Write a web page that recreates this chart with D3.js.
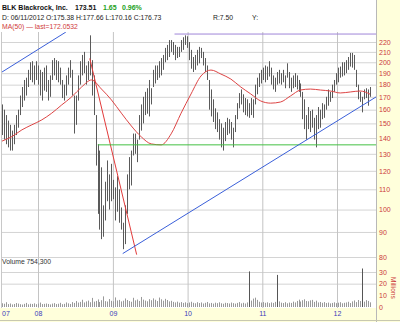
<!DOCTYPE html>
<html>
<head>
<meta charset="utf-8">
<script src="https://cdn.jsdelivr.net/npm/d3@7"></script>
<style>
  body { margin: 0; background: #ffffdb; }
  svg { display: block; font-family: "Liberation Sans", Arial, sans-serif; }
</style>
</head>
<body>
<div id="chart"></div>
<script>
// bar highs / lows (about 7 trading days per bar), Jul 2007 .. Jun 2012
const highs = [
  164,160,156,152,149,145,149,156,160,171,
  178,184,186,193,200,201,197,201,197,193,
  191,195,197,184,188,202,204,202,201,195,
  184,180,188,195,202,193,171,171,188,201,
  207,210,197,201,227,202,188,156,136,132,
  122,102,114,126,118,124,115,111,117,110,
  101,94,102,118,128,132,143,143,139,156,
  164,170,174,177,184,177,193,197,197,201,
  204,207,214,217,222,222,220,217,215,215,
  222,225,227,226,220,212,205,207,212,215,
  214,210,204,197,184,176,168,161,158,153,
  150,147,151,154,153,151,147,156,165,173,
  176,172,169,168,165,169,168,180,186,190,
  193,195,197,196,201,195,188,186,191,193,
  190,193,188,199,191,186,188,190,188,184,
  181,174,168,156,162,159,160,154,156,162,
  160,165,164,170,176,174,180,184,190,195,
  196,200,200,202,205,209,209,207,193,180,
  174,170,176,177,176,178
];
const lows = [
  142,139,136,134,132,132,136,142,147,156,
  162,167,171,178,184,182,180,184,180,171,
  167,175,174,167,170,184,188,184,182,180,
  169,167,171,180,186,171,143,149,167,180,
  188,190,180,184,188,171,156,123,98,91,
  87,88,95,104,100,104,105,95,99,94,
  91,83,85,98,110,112,129,130,125,139,
  145,150,156,157,155,164,178,181,184,186,
  188,193,200,202,205,210,207,202,204,205,
  210,212,217,214,202,194,191,193,197,199,
  204,197,191,184,160,155,151,146,144,139,
  134,132,138,142,143,139,134,144,153,161,
  164,158,156,155,154,156,154,164,172,178,
  181,184,182,184,187,180,176,174,180,181,
  180,182,177,186,177,174,177,178,176,174,
  170,153,146,139,146,144,147,139,134,146,
  147,153,154,160,163,166,169,174,180,182,
  186,187,188,190,193,196,195,193,178,168,
  166,158,168,169,163,170
];
// volume in millions, one per bar
const volumes = [
  3.2,2.8,4.1,2.5,3.0,2.2,2.6,3.4,2.9,2.4,
  2.1,2.7,3.5,2.3,2.8,2.6,3.1,2.4,2.9,3.8,
  2.5,2.7,3.0,2.6,2.2,2.9,3.3,2.5,2.8,3.6,
  2.4,2.7,3.9,3.1,2.6,
  4.2,3.5,5.1,3.8,4.4,6.2,3.9,4.8,5.5,4.1,
  7.8,4.6,5.2,6.5,4.3,5.8,9.1,5.0,4.7,6.8,
  5.3,4.9,8.2,5.6,6.1,4.8,5.4,7.3,6.0,5.1,
  4.5,7.9,5.7,6.4,5.2,8.6,6.3,5.5,4.9,6.7,
  5.8,7.4,6.2,5.1,8.1,6.6,5.4,7.0,6.0,4.8,
  5.3,4.4,3.9,4.6,3.7,4.2,3.5,4.0,3.3,3.8,
  4.5,3.6,3.2,4.1,3.4,3.9,3.0,3.6,4.3,3.1,
  3.5,2.9,3.7,3.3,4.0,3.2,2.8,3.6,3.4,3.0,
  3.8,3.3,2.9,3.5,4.2,3.1,3.6,3.0,3.9,30.5,
  5.5,7.2,8.0,6.1,4.5,3.8,4.2,3.6,4.0,3.3,3.9,3.5,4.4,
  27.5,
  4.8,3.7,3.4,4.1,3.2,3.8,3.5,4.6,3.9,5.2,6.3,
  4.7,5.8,6.6,5.1,4.9,5.7,6.1,4.4,5.4,3.9,4.3,
  3.6,4.2,3.4,3.8,3.1,3.5,4.0,3.3,3.7,4.1,3.2,3.6,
  3.9,4.5,3.4,4.8,5.6,4.2,6.0,5.1,33.0,4.6,5.9,5.2,4.0
];
// MA(50), read every 5th bar
const maValues = [
  138,141,145.5,149,152.5,157.4,163.6,169.9,178,184,
  176.3,167.5,157.4,148.2,140.8,136.2,135.6,142.8,157.4,172.3,
  187.5,192.8,189.2,184.8,178,172.3,166.7,165,165.9,170.7,
  175.5,176.3,175.5,174.7,173.1,173.9,174.7,172.05
];
const priceTicks = [80,90,100,110,120,130,140,150,160,170,180,190,200,210,220];
const volumeTicks = [0,10,20,30];
const firstDay = "2007-07-09", lastDay = "2012-06-11";

// drawn trend lines: [date, price] start and end
const trendStarts = [["2007-07-09",191],["2009-10-29",228.4],["2008-09-10",203.6],["2008-10-19",135.6],["2009-02-18",81.3]];
const trendEnds   = [["2008-05-16",230.5],["2012-07-10",228.4],["2009-04-27",80.9],["2012-07-10",135.6],["2012-07-10",169.9]];
const trendColors = ["#3a5fd9","#9f86d8","#e23a3a","#44c044","#3a5fd9"];

const width = 400, height = 322;
const parse = d3.timeParse("%Y-%m-%d");
const start = parse(firstDay), end = parse(lastDay);
const dates = highs.map((d, i) => new Date(+start + (end - start) * i / (highs.length - 1)));

const x = d3.scaleTime().domain([new Date(2008,0,1), new Date(2012,0,1)]).range([38, 337]);
const y = d3.scaleLog().domain([80, 220]).range([257, 42]);
const yv = d3.scaleLinear().domain([0, 30]).range([307, 272]);

const svg = d3.select("#chart").append("svg")
    .attr("width", width)
    .attr("height", height);

svg.append("rect").attr("width", width).attr("height", height).attr("fill", "#ffffdb");
svg.append("rect").attr("x", 0).attr("y", 0).attr("width", 376).attr("height", 308)
    .attr("fill", "#fff");
svg.append("line").attr("x1", 376.5).attr("x2", 376.5).attr("y1", 0).attr("y2", 322)
    .attr("stroke", "#b8b8b8");
svg.append("line").attr("x1", 1.5).attr("x2", 1.5).attr("y1", 32).attr("y2", 308)
    .attr("stroke", "#c8c8c8");
svg.append("line").attr("x1", 0).attr("x2", 400).attr("y1", 320.5).attr("y2", 320.5)
    .attr("stroke", "#c8c8b0");

svg.append("clipPath").attr("id", "plot")
  .append("rect").attr("x", 2).attr("y", 32).attr("width", 374).attr("height", 276);

const plot = svg.append("g").attr("clip-path", "url(#plot)");

// horizontal grid
plot.append("g")
    .attr("transform", "translate(376,0)")
    .call(d3.axisLeft(y).tickValues(priceTicks).tickSize(374).tickFormat(""))
    .call(g => g.select(".domain").remove())
    .call(g => g.selectAll("line").attr("stroke", "#d4d4d4"));

plot.append("g")
    .attr("transform", "translate(376,0)")
    .call(d3.axisLeft(yv).tickValues([20, 30]).tickSize(374).tickFormat(""))
    .call(g => g.select(".domain").remove())
    .call(g => g.selectAll("line").attr("stroke", "#d4d4d4"));

// year grid
plot.append("g")
    .attr("transform", "translate(0,308)")
    .call(d3.axisTop(x).ticks(d3.timeYear.every(1)).tickSize(276).tickFormat(""))
    .call(g => g.select(".domain").remove())
    .call(g => g.selectAll("line").attr("stroke", "#c4c4c4"));

// volume bars
plot.selectAll(".vol")
    .data(volumes)
    .join("line")
    .attr("class", "vol")
    .attr("x1", (d, i) => Math.round(x(dates[i])) + 0.5)
    .attr("x2", (d, i) => Math.round(x(dates[i])) + 0.5)
    .attr("y1", yv(0))
    .attr("y2", d => yv(d))
    .attr("stroke", d => d > 15 ? "#555" : "#999");

// price bars
plot.selectAll(".bar")
    .data(highs)
    .join("line")
    .attr("class", "bar")
    .attr("x1", (d, i) => Math.round(x(dates[i])) + 0.5)
    .attr("x2", (d, i) => Math.round(x(dates[i])) + 0.5)
    .attr("y1", d => y(d))
    .attr("y2", (d, i) => y(lows[i]))
    .attr("stroke", "#5a5a5a");

// moving average
const maLine = d3.line()
    .x((d, i) => x(dates[i * 5]))
    .y(d => y(d))
    .curve(d3.curveMonotoneX);

plot.append("path")
    .datum(maValues)
    .attr("d", maLine)
    .attr("fill", "none")
    .attr("stroke", "#dd4444")
    .attr("stroke-width", 1);

// trend lines
trendStarts.forEach((s, i) => {
    plot.append("line")
        .attr("x1", x(parse(s[0]))).attr("y1", y(s[1]))
        .attr("x2", x(parse(trendEnds[i][0]))).attr("y2", y(trendEnds[i][1]))
        .attr("stroke", trendColors[i])
        .attr("stroke-width", 1);
});

// right price axis
svg.append("g")
    .attr("transform", "translate(377,0)")
    .call(d3.axisRight(y).tickValues(priceTicks).tickSize(0).tickPadding(2).tickFormat(d3.format("d")))
    .call(g => g.select(".domain").remove())
    .call(g => g.selectAll("text").attr("fill", "#cc3a3a").style("font-size", "7px"));

svg.append("g")
    .attr("transform", "translate(377,0)")
    .call(d3.axisRight(yv).tickValues(volumeTicks).tickSize(0).tickPadding(2).tickFormat(d3.format("d")))
    .call(g => g.select(".domain").remove())
    .call(g => g.selectAll("text").attr("fill", "#cc3a3a").style("font-size", "7px"));

svg.append("text")
    .attr("transform", "translate(391,277) rotate(90)")
    .attr("fill", "#cc3a3a")
    .style("font-size", "6.5px")
    .text("Millions");

// bottom year labels
svg.append("g")
    .attr("transform", "translate(0,309)")
    .call(d3.axisBottom(x).ticks(d3.timeYear.every(1)).tickSize(0).tickPadding(2).tickFormat(d3.timeFormat("%y")))
    .call(g => g.select(".domain").remove())
    .call(g => g.selectAll("text").attr("fill", "#3b3bbb").style("font-size", "7px"));

svg.append("text")
    .attr("x", 2).attr("y", 316)
    .attr("fill", "#3b3bbb")
    .style("font-size", "7px")
    .text("07");

// header
const header = [
    {t: "BLK Blackrock, Inc.", x: 2, y: 9.5, c: "#111", w: "bold"},
    {t: "173.51", x: 75, y: 9.5, c: "#111", w: "bold"},
    {t: "1.65", x: 103, y: 9.5, c: "#22a022", w: "bold"},
    {t: "0.96%", x: 122, y: 9.5, c: "#22a022", w: "bold"},
    {t: "D: 06/11/2012 O:175.38 H:177.66 L:170.16 C:176.73", x: 2, y: 19.5, c: "#222", w: "normal"},
    {t: "R:7.50", x: 213, y: 19.5, c: "#222", w: "normal"},
    {t: "Y:", x: 252, y: 19.5, c: "#222", w: "normal"},
    {t: "MA(50) \u2014 last=172.0532", x: 2, y: 28.5, c: "#d03a3a", w: "normal"}
];
svg.selectAll(".hdr")
    .data(header)
    .join("text")
    .attr("class", "hdr")
    .attr("x", d => d.x)
    .attr("y", d => d.y)
    .attr("fill", d => d.c)
    .style("font-weight", d => d.w)
    .style("font-size", d => d.w === "bold" ? "7px" : "6.8px")
    .text(d => d.t);

svg.append("text")
    .attr("x", 2).attr("y", 264)
    .attr("fill", "#333")
    .style("font-size", "6.8px")
    .text("Volume 754,300");
</script>
</body>
</html>
